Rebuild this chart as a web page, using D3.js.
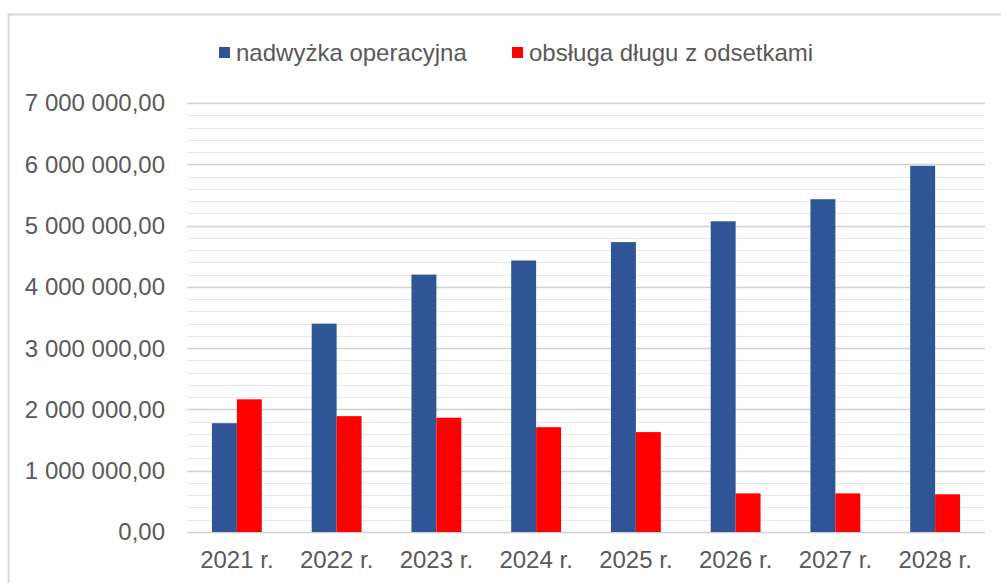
<!DOCTYPE html>
<html>
<head>
<meta charset="utf-8">
<script src="https://cdn.jsdelivr.net/npm/d3@7"></script>
<style>
  body { margin: 0; background: #fff; }
  svg { display: block; font-family: "Liberation Sans", Arial, sans-serif; }
</style>
</head>
<body>
<div id="chart"></div>
<script>
// Dati
const years = ['2021 r.', '2022 r.', '2023 r.', '2024 r.', '2025 r.', '2026 r.', '2027 r.', '2028 r.'];
const surplus = [1775000, 3400000, 4200000, 4430000, 4730000, 5070000, 5430000, 5975000];
const debtService = [2165000, 1890000, 1865000, 1710000, 1630000, 630000, 630000, 615000];
const seriesNames = ['nadwyżka operacyjna', 'obsługa długu z odsetkami'];
const seriesColors = ['#2f5597', '#ff0000'];
const yTicks = [0, 1000000, 2000000, 3000000, 4000000, 5000000, 6000000, 7000000];

const width = 1001, height = 583;
const margin = { top: 103, right: 16, bottom: 51, left: 187 };
const innerW = width - margin.left - margin.right;
const innerH = height - margin.top - margin.bottom;
const fontSize = '24px';

const svg = d3.select('#chart').append('svg')
    .attr('width', width)
    .attr('height', height);

// cornice del grafico
svg.append('path')
    .attr('d', `M8.5,${height} V14.5 H${width}`)
    .attr('fill', 'none')
    .attr('stroke', '#d6d6d6')
    .attr('stroke-width', 2);

const g = svg.append('g').attr('transform', `translate(${margin.left},${margin.top})`);

const x = d3.scaleBand().domain(years).range([0, innerW]).paddingInner(0.5).paddingOuter(0.25);
const xs = d3.scaleBand().domain([0, 1]).range([0, x.bandwidth()]);
const y = d3.scaleLinear().domain([0, 7000000]).range([innerH, 0]);

// griglia secondaria
const minor = d3.range(0, 7000001, 200000).filter(v => v % 1000000 !== 0);
g.append('g').selectAll('line').data(minor).enter().append('line')
    .attr('x1', 0).attr('x2', innerW)
    .attr('y1', d => Math.round(y(d)) + 0.5).attr('y2', d => Math.round(y(d)) + 0.5)
    .attr('stroke', '#e8e8e8').attr('stroke-width', 1);

// griglia principale
g.append('g').selectAll('line').data(yTicks).enter().append('line')
    .attr('x1', 0).attr('x2', innerW)
    .attr('y1', d => Math.round(y(d)) + 0.5).attr('y2', d => Math.round(y(d)) + 0.5)
    .attr('stroke', '#d0d0d0').attr('stroke-width', 1.5);

// barre
const groups = g.append('g').selectAll('g').data(years).enter().append('g')
    .attr('transform', d => `translate(${x(d)},0)`);
[surplus, debtService].forEach((vals, si) => {
    groups.append('rect')
        .attr('x', xs(si))
        .attr('width', xs.bandwidth())
        .attr('y', (d, i) => y(vals[i]))
        .attr('height', (d, i) => innerH - y(vals[i]))
        .attr('fill', seriesColors[si]);
});

// etichette asse Y
const fmt = v => d3.format(',.2f')(v).replace(/,/g, ' ').replace('.', ',');
g.append('g').selectAll('text').data(yTicks).enter().append('text')
    .attr('x', -22)
    .attr('y', d => y(d))
    .attr('dy', '0.35em')
    .attr('text-anchor', 'end')
    .attr('font-size', fontSize)
    .attr('fill', '#595959')
    .text(fmt);

// etichette asse X
g.append('g').selectAll('text').data(years).enter().append('text')
    .attr('x', d => x(d) + x.bandwidth() / 2)
    .attr('y', innerH + 36)
    .attr('text-anchor', 'middle')
    .attr('font-size', fontSize)
    .attr('fill', '#595959')
    .text(d => d);

// legenda
const legendX = [219, 512];
seriesNames.forEach((name, i) => {
    const lg = svg.append('g').attr('transform', `translate(${legendX[i]},47)`);
    lg.append('rect').attr('width', 11).attr('height', 11).attr('fill', seriesColors[i]);
    lg.append('text')
        .attr('x', 17).attr('y', 5.5)
        .attr('dy', '0.35em')
        .attr('font-size', fontSize)
        .attr('fill', '#595959')
        .text(name);
});
</script>
</body>
</html>
